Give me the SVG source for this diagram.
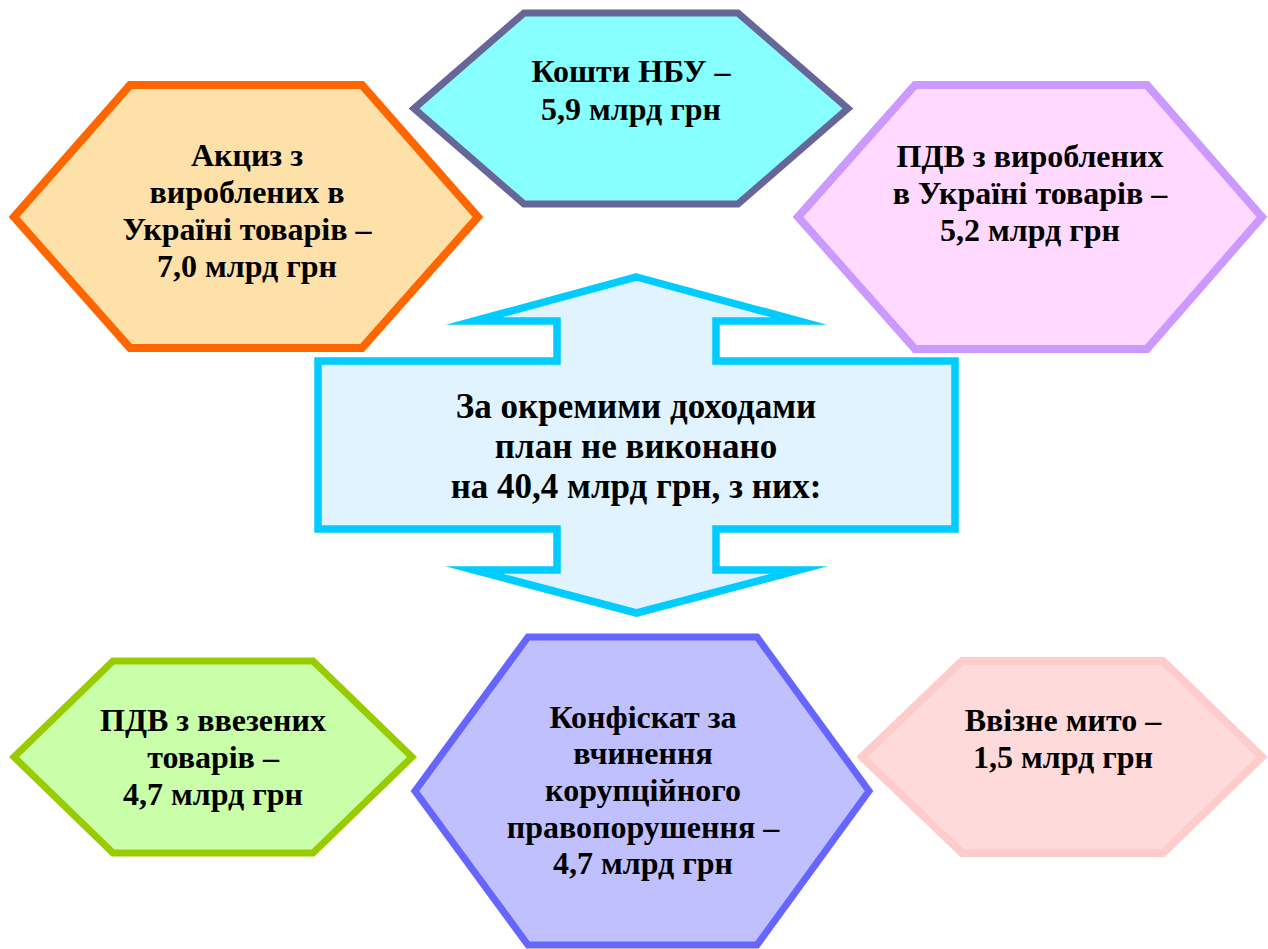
<svg xmlns="http://www.w3.org/2000/svg" width="1268" height="949" viewBox="0 0 1268 949">
<style>
.t{font-family:'Liberation Serif','DejaVu Serif',serif;font-weight:700;fill:#000;text-anchor:middle}
.h{font-size:32px}
.c{font-size:35px}
polygon,path{stroke-linejoin:miter;stroke-miterlimit:12}
</style>
<rect width="1268" height="949" fill="#fff"/>
<g id="connectors">
<path id="arrow" d="M636.5 277 L799 321 L716 321 L716 361 L955 361 L955 529 L716 529 L716 570 L799 570 L636.5 613 L474 570 L557 570 L557 529 L318 529 L318 361 L557 361 L557 321 L474 321 Z" fill="#E0F3FE" stroke="#00CCFF" stroke-width="7.5"/>
</g>
<g id="center" class="t">
<text class="c" x="636" y="418">За окремими доходами</text>
<text class="c" x="636" y="458">план не виконано</text>
<text class="c" x="636" y="498">на 40,4 млрд грн, з них:</text>
</g>
<g id="akcyz">
<polygon points="14,217 130,85 362,85 478,217 362,348 130,348" fill="#FEE1A9" stroke="#FF6600" stroke-width="8"/>
<g class="t h">
<text x="247" y="166">Акциз з</text>
<text x="247" y="203">вироблених в</text>
<text x="247" y="240">Україні товарів –</text>
<text x="247" y="277">7,0 млрд грн</text>
</g>
</g>
<g id="nbu">
<polygon points="414,108.5 524,13 738,13 848,108.5 738,204 524,204" fill="#88FFFF" stroke="#666699" stroke-width="7"/>
<g class="t h">
<text x="631" y="82">Кошти НБУ –</text>
<text x="631" y="120">5,9 млрд грн</text>
</g>
</g>
<g id="pdv-ua">
<polygon points="798,217 915,85 1147,85 1262,217 1147,349 915,349" fill="#FFD9FF" stroke="#CC99FF" stroke-width="8"/>
<g class="t h">
<text x="1030" y="167">ПДВ з вироблених</text>
<text x="1030" y="204">в Україні товарів –</text>
<text x="1030" y="241">5,2 млрд грн</text>
</g>
</g>
<g id="pdv-import">
<polygon points="14,757 113,661 313,661 412,757 313,853 113,853" fill="#C8FFA8" stroke="#99CC00" stroke-width="7"/>
<g class="t h">
<text x="213" y="731">ПДВ з ввезених</text>
<text x="213" y="768">товарів –</text>
<text x="213" y="805">4,7 млрд грн</text>
</g>
</g>
<g id="konfiskat">
<polygon points="415,791 528,637 757,637 869,791 757,945 528,945" fill="#C0C0FF" stroke="#6666FF" stroke-width="7"/>
<g class="t h">
<text x="643" y="728">Конфіскат за</text>
<text x="643" y="764">вчинення</text>
<text x="643" y="801">корупційного</text>
<text x="643" y="838">правопорушення –</text>
<text x="643" y="874">4,7 млрд грн</text>
</g>
</g>
<g id="myto">
<polygon points="862,757 962,661 1163,661 1262,757 1163,853 962,853" fill="#FFDADA" stroke="#FFCCCC" stroke-width="8"/>
<g class="t h">
<text x="1063" y="731">Ввізне мито –</text>
<text x="1063" y="768">1,5 млрд грн</text>
</g>
</g>
</svg>
